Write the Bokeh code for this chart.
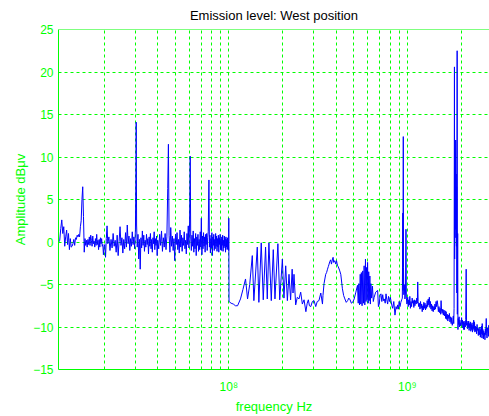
from bokeh.plotting import figure
from bokeh.models import FixedTicker, CustomJSTickFormatter, Span, Range1d
from bokeh.embed import file_html
from bokeh.resources import INLINE

title_text = "Emission level: West position"
x_label = "frequency Hz"
y_label = "Amplitude dBμv"
y_ticks = [-15, -10, -5, 0, 5, 10, 15, 20, 25]
x_grid_ticks = [2e7, 3e7, 4e7, 5e7, 6e7, 7e7, 8e7, 9e7, 1e8,
                2e8, 3e8, 4e8, 5e8, 6e8, 7e8, 8e8, 9e8, 1e9, 2e9]

# 11 - 20 MHz
freq_a = [11.0, 11.15, 11.3, 11.45, 11.6, 11.75, 11.9, 12.05, 12.2, 12.35, 12.5, 12.65, 12.8,
          12.95, 13.1, 13.25, 13.4, 13.55, 13.7, 13.85, 14.0, 14.15, 14.3, 14.45, 14.6, 14.75,
          14.9, 15.05, 15.2, 15.35, 15.5, 15.65, 15.8, 15.95, 16.1, 16.25, 16.4, 16.55, 16.7,
          16.85, 17.0, 17.15, 17.3, 17.45, 17.6, 17.75, 17.9, 18.05, 18.2, 18.35, 18.5, 18.65,
          18.8, 18.95, 19.1, 19.25, 19.4, 19.55, 19.7, 19.85, 20.0]
level_a = [-0.3, 0.0, 0.2, 1.6, 2.6, 1.0, 1.8, -0.5, 0.6, 1.4, -0.3, 1.0, -0.9,
           0.4, -0.6, -0.5, -0.2, 0.3, -0.4, 0.5, 0.3, 0.8, 0.6, 0.9, 0.6, 1.8,
           2.5, 5.0, 6.5, 3.0, -1.2, 0.4, -0.4, 0.2, -0.6, 0.3, -0.3, 0.6, -0.4,
           0.8, 0.2, -0.5, 0.7, -0.2, 0.1, -0.6, 0.4, -0.4, 0.9, -0.3, 0.2, -0.9,
           0.3, -0.6, 0.5, -0.2, 0.4, -0.5, -0.3, -1.5, -0.6]

# 20 - 40 MHz
freq_b = [20.2, 20.4, 20.6, 20.8, 21.0, 21.3, 21.6, 21.9, 22.2, 22.5, 22.8, 23.1, 23.4, 23.7,
          24.0, 24.3, 24.6, 24.9, 25.2, 25.5, 25.8, 26.1, 26.4, 26.7, 27.0, 27.3, 27.6, 27.9,
          28.2, 28.5, 28.8, 29.1, 29.4, 29.7, 30.0, 30.15, 30.3, 30.45, 30.7, 31.0, 31.3, 31.6,
          31.9, 32.2, 32.5, 32.8, 33.1, 33.4, 33.7, 34.0, 34.3, 34.6, 34.9, 35.2, 35.5, 35.8,
          36.1, 36.4, 36.7, 37.0, 37.3, 37.6, 37.9, 38.2, 38.5, 38.8, 39.1, 39.4, 39.7, 40.0]
level_b = [-0.3, -1.8, 0.4, 1.9, -0.2, 0.6, -1.0, 0.3, -0.7, 1.0, -0.5, 0.2, -1.2, 0.8,
           -1.6, 0.1, 1.8, -0.4, 0.5, -1.3, 0.3, -0.8, 1.1, -0.6, 2.0, -0.2, 0.7, -1.0,
           0.4, -0.5, 1.2, -0.3, 0.6, -0.8, 1.5, 7.3, 14.1, 2.0, -0.6, 0.9, -2.0, 0.3,
           -3.2, 0.5, -0.7, 1.3, -0.4, 0.8, -1.1, 0.2, -0.6, 0.9, -0.3, 0.4, -1.4, 0.6,
           -0.5, 1.0, -0.8, 0.3, -1.2, 0.5, -0.2, 1.2, -0.9, 0.4, -0.4, 0.7, -1.6, 0.2]

# 40 - 100 MHz
freq_c = [40.5, 41.0, 41.5, 42.0, 42.5, 43.0, 43.5, 44.0, 44.5, 45.0, 45.5, 45.9, 46.3, 46.8,
          47.3, 47.8, 48.3, 48.8, 49.3, 49.8, 50.3, 50.8, 51.3, 51.8, 52.3, 52.8, 53.3, 53.8,
          54.3, 54.8, 55.3, 55.8, 56.3, 56.8, 57.3, 57.8, 58.3, 58.8, 59.3, 59.8, 60.3, 60.8,
          61.2, 61.7, 62.2, 62.7, 63.2, 63.7, 64.2, 64.7, 65.2, 65.7, 66.2, 66.7, 67.2, 67.7,
          68.2, 68.7, 69.2, 69.7, 70.2, 70.7, 71.2, 71.7, 72.2, 72.7, 73.2, 73.7, 74.2, 74.7,
          75.2, 75.7, 76.2, 76.7, 77.4, 77.9, 78.4, 78.9, 79.4, 79.9, 80.4, 80.9, 81.4, 81.9,
          82.4, 82.9, 83.4, 83.9, 84.4, 84.9, 85.4, 85.9, 86.4, 86.9, 87.4, 87.9, 88.4, 88.9,
          89.4, 89.9, 90.4, 90.9, 91.4, 91.9, 92.4, 92.9, 93.4, 93.9, 94.4, 94.9, 95.4, 95.9,
          96.4, 96.9, 97.4, 97.9, 98.4, 98.9, 99.4, 99.8, 100.0, 100.3]
level_c = [-0.8, 0.9, -0.4, 1.3, -1.1, 0.5, -0.6, 1.0, -0.9, 0.6, 6.3, 11.5, 0.8, -1.2,
           1.7, -0.5, 0.7, -1.0, 0.4, -2.2, 0.9, -0.3, 1.1, -0.9, 0.3, -1.3, 1.4, -0.6,
           0.8, -1.1, 0.5, -0.4, 1.2, -0.8, 0.2, -1.4, 1.0, -0.3, 1.9, -0.7, 2.2, 10.1,
           0.6, -1.0, 0.8, -0.5, 1.3, -1.2, 0.4, -0.8, 1.0, -1.6, 0.6, -0.4, 0.9, -1.1,
           0.3, -0.9, 1.2, -0.6, 2.8, -1.5, 0.7, -0.8, 1.1, -0.5, 0.6, -1.2, 0.9, -0.3,
           1.0, -1.0, 0.5, 1.2, 7.3, -0.6, 0.8, -1.3, 0.4, -0.7, 1.1, -1.6, 0.6, -0.4,
           0.9, -1.0, 0.3, -0.8, 1.0, -0.5, 0.7, -1.1, 0.4, -0.6, 0.8, -1.2, 0.5, -0.3,
           0.9, -0.9, 0.3, -1.0, 0.6, -0.4, 0.8, -1.1, 0.2, -0.7, 0.7, -0.5, 0.4, -1.2,
           0.6, -0.6, 0.3, -0.9, 0.5, -0.8, 0.2, -1.0, 2.8, -7.0]

# 100 - 530 MHz
freq_d = [103, 106, 109, 112, 116.3, 120, 124.1, 127.4, 131, 135.4, 138.2, 144.4, 147.4,
          152.0, 156.0, 160.7, 164.3, 167.8, 173.0, 177.5, 181.4, 188.4, 192.9, 199.6, 203.7,
          208.4, 212.9, 217.4, 222.0, 226.5, 229, 231.9, 237, 242, 247.4, 252.8, 258.3, 264,
          270.3, 275, 279, 283, 287.8, 294, 300.4, 307, 313, 320, 327.6, 334.8, 337, 341.6,
          349, 353, 357.3, 361, 364.6, 368, 372, 376, 381, 384, 387, 392, 397.8, 401, 404, 407,
          410, 417, 424, 433, 440, 447, 455, 463, 470, 478, 486, 494, 504, 515, 526]
level_d = [-7.2, -7.3, -7.5, -7.5, -6.7, -5.6, -4.35, -6.7, -5.0, -1.6, -6.9, -0.6, -7.1,
           -0.1, -6.8, -0.6, -6.7, -0.1, -6.9, -0.9, -6.7, -0.2, -6.8, -2.0, -6.6,
           -2.8, -6.9, -3.8, -6.8, -3.2, -6.0, -3.8, -7.4, -6.5, -6.7, -5.9, -7.3, -6.8,
           -8.2, -7.2, -6.8, -7.5, -7.6, -7.0, -6.9, -7.6, -7.0, -6.9, -6.0, -7.3, -6.3, -4.9,
           -3.8, -3.6, -3.2, -2.9, -2.6, -2.3, -2.1, -2.6, -2.0, -1.8, -2.4, -2.2, -2.6, -2.2, -2.5, -2.8,
           -2.9, -3.3, -3.8, -5.5, -6.3, -6.7, -7.1, -6.9, -6.6, -6.8, -7.2, -7.1, -6.7, -5.9, -5.1]

# 530 - 990 MHz
freq_e = [531, 535, 540, 545, 549, 553, 558, 563, 568, 573, 578, 583, 587, 591, 595, 599,
          604, 608, 612, 617, 621, 625, 631, 638, 645, 652, 665, 682, 689, 696, 704, 712,
          720, 728, 736, 743, 752, 760, 768, 776, 785, 795, 803, 810, 820, 828, 840, 853,
          865, 875, 883, 892, 900, 910, 920, 930, 938, 944, 946, 949.5, 952, 956, 962, 970,
          977, 983, 988]
level_e = [-7.2, -4.9, -7.4, -3.8, -7.3, -3.6, -7.5, -3.4, -7.2, -2.8, -7.4, -2.0, -7.0, -3.0, -6.8, -2.4,
           -7.2, -3.5, -6.9, -4.0, -7.3, -4.9, -6.6, -5.2, -7.0, -6.5, -5.9, -5.7, -7.6, -7.3, -6.3, -6.1,
           -7.0, -6.2, -6.9, -6.7, -7.2, -6.1, -6.8, -7.3, -6.4, -7.0, -6.5, -6.9, -7.5, -7.8, -7.0, -8.6,
           -7.6, -7.9, -7.4, -7.9, -7.0, -7.6, -7.1, -6.8, -6.6, 3.4, -5.7, 12.4, -3.0, -6.2, -5.0, -6.7,
           -6.0, 1.5, -6.6]

# 1 - 2.9 GHz
freq_f = [995, 1005, 1012, 1019, 1026, 1033, 1041, 1049, 1057, 1065, 1072, 1080, 1088, 1095,
          1103, 1112, 1121, 1130, 1138, 1144, 1150, 1158, 1168, 1177, 1186, 1195, 1204, 1212,
          1220, 1229, 1238, 1247, 1256, 1265, 1274, 1283, 1292, 1301, 1310, 1320, 1329, 1338,
          1348, 1357, 1367, 1377, 1387, 1397, 1408, 1418, 1428, 1438, 1449, 1459, 1470, 1482,
          1493, 1504, 1515, 1526, 1537, 1546, 1555, 1566, 1580, 1592, 1604, 1617, 1630, 1640,
          1650, 1662, 1675, 1687, 1698, 1709, 1721, 1733, 1746, 1760, 1773, 1786, 1799, 1810,
          1820, 1828, 1837, 1842, 1848, 1853, 1858, 1863, 1868, 1873, 1878, 1884, 1890, 1896,
          1902, 1907, 1915, 1922, 1930, 1940, 1950, 1960, 1970, 1981, 1992, 2003, 2014, 2025,
          2036, 2047, 2058, 2069, 2079, 2090, 2101, 2112, 2124, 2137, 2148, 2160, 2172, 2184,
          2196, 2207, 2219, 2230, 2242, 2255, 2268, 2280, 2292, 2305, 2318, 2330, 2342, 2355,
          2367, 2379, 2392, 2405, 2418, 2432, 2445, 2459, 2472, 2486, 2500, 2512, 2525, 2538,
          2552, 2566, 2580, 2594, 2608, 2620, 2628, 2640, 2654, 2668, 2681, 2695, 2708, 2722,
          2736, 2750, 2768, 2782, 2796, 2810, 2829, 2845, 2860, 2875, 2888, 2900, 2914]
level_f = [-7.3, -6.5, -7.6, -6.8, -7.4, -6.4, -7.8, -7.0, -7.6, -6.6, -7.2, -6.9, -7.7, -6.8,
           -7.5, -6.9, -7.3, -6.6, -7.2, -4.7, -7.0, -7.6, -7.2, -7.9, -7.0, -7.8, -7.3, -8.2,
           -7.5, -8.0, -7.1, -7.8, -7.2, -8.0, -7.4, -7.8, -6.9, -7.6, -6.7, -7.4, -6.5, -7.7,
           -7.0, -7.9, -7.3, -8.1, -7.5, -8.2, -7.6, -8.0, -7.3, -7.9, -7.0, -7.6, -6.9, -7.4,
           -8.2, -7.6, -8.3, -7.8, -8.5, -6.9, -8.0, -8.4, -7.9, -8.6, -8.0, -8.7, -8.1, -9.0,
           -8.2, -9.1, -8.5, -9.3, -8.6, -9.0, -8.4, -9.4, -8.8, -9.6, -8.9, -9.8, -9.4, -8.7,
           -9.6, -7.8, 20.6, -2.0, 12.0, 0.5, 10.5, 1.5, 12.0, 3.0, 8.0, -0.5, 6.5, -6.0,
           22.5, -8.5, 1.0, -10.3, -9.0, -9.7, -8.8, -10.0, -9.2, -9.9, -9.5, -9.8, -8.9, -9.6,
           -9.2, -10.1, -9.4, -10.3, -9.3, -10.3, -9.5, -10.0, -9.1, -3.2, -9.8, -9.3, -10.2, -9.5,
           -10.0, -9.3, -10.4, -9.6, -10.1, -9.4, -10.5, -9.7, -10.3, -9.5, -10.6, -9.8, -10.2, -9.2,
           -10.4, -9.4, -10.6, -9.9, -10.5, -10.0, -10.8, -9.7, -10.4, -10.1, -11.0, -10.2, -10.7, -10.9,
           -10.0, -11.2, -10.3, -10.8, -9.9, -11.3, -9.6, -10.9, -10.3, -11.4, -10.5, -11.0, -10.7, -11.5,
           -10.2, -10.9, -9.0, -10.8, -11.3, -10.1, -10.6, -11.1, -9.8, -10.4, -9.6, -10.2, -10.0]

freq_mhz = freq_a + freq_b + freq_c + freq_d + freq_e + freq_f
level_db = level_a + level_b + level_c + level_d + level_e + level_f
freq_hz = [f * 1e6 for f in freq_mhz]

GREEN = "#00ff00"
FONT = "Liberation Sans"
X_START, X_END = 1.112e7, 2.887e9
Y_START, Y_END = -15, 25

p = figure(width=489, height=416, x_axis_type="log",
           x_range=Range1d(X_START, X_END), y_range=Range1d(Y_START, Y_END),
           output_backend="svg", toolbar_location=None,
           min_border_left=58, min_border_right=0, min_border_top=29, min_border_bottom=43)

p.background_fill_color = "white"
p.border_fill_color = "white"
p.outline_line_color = None

p.title.text = title_text
p.title.align = "center"
p.title.vertical_align = "middle"
p.title.text_font = FONT
p.title.text_font_size = "13px"
p.title.text_font_style = "normal"
p.title.text_color = "black"
p.title.standoff = 12

p.line(freq_hz, level_db, line_color="#0000ff", line_width=1)

p.xaxis.ticker = FixedTicker(ticks=x_grid_ticks)
p.xaxis.formatter = CustomJSTickFormatter(code="""
const e = Math.log10(tick);
const r = Math.round(e);
if (Math.abs(e - r) < 1e-6) {
  const sup = ['\u2070','\u00b9','\u00b2','\u00b3','\u2074','\u2075','\u2076','\u2077','\u2078','\u2079'];
  return '10' + sup[r % 10];
}
return '';
""")
p.yaxis.ticker = FixedTicker(ticks=y_ticks)

for ax in (p.xaxis[0], p.yaxis[0]):
    ax.axis_line_color = GREEN
    ax.axis_line_width = 1
    ax.major_tick_line_color = GREEN
    ax.major_tick_in = 0
    ax.major_tick_out = 0
    ax.minor_tick_line_color = None
    ax.major_label_text_color = GREEN
    ax.major_label_text_font = FONT
    ax.major_label_text_font_size = "12px"
    ax.axis_label_text_color = GREEN
    ax.axis_label_text_font = FONT
    ax.axis_label_text_font_size = "13px"
    ax.axis_label_text_font_style = "normal"

p.xaxis.axis_label = x_label
p.yaxis.axis_label = y_label
p.xaxis.major_label_standoff = 10
p.xaxis.axis_label_standoff = 2
p.yaxis.major_label_standoff = 5
p.yaxis.axis_label_standoff = 2

p.xgrid.ticker = FixedTicker(ticks=x_grid_ticks)
for g in (p.xgrid[0], p.ygrid[0]):
    g.grid_line_color = GREEN
    g.grid_line_dash = "3 3"
    g.grid_line_width = 1
    g.minor_grid_line_color = None

p.add_layout(Span(location=Y_END, dimension="width", line_color=GREEN, line_width=1))

with open("out.html", "w", encoding="utf-8") as fh:
    fh.write(file_html(p, INLINE))
